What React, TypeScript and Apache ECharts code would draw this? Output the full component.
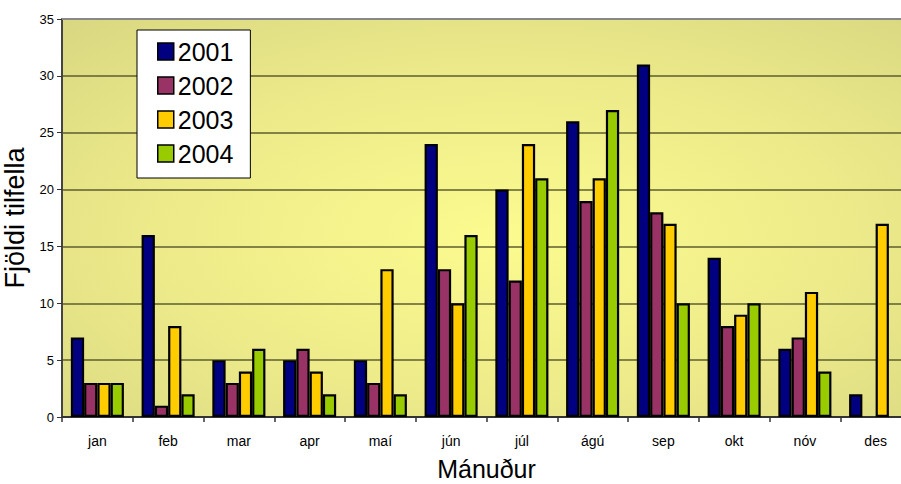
import React, { useEffect, useRef } from "react";
import * as echarts from "echarts";

const months = ["jan", "feb", "mar", "apr", "maí", "jún", "júl", "ágú", "sep", "okt", "nóv", "des"];
const years = ["2001", "2002", "2003", "2004"];
const v2001 = [7, 16, 5, 5, 5, 24, 20, 26, 31, 14, 6, 2];
const v2002 = [3, 1, 3, 6, 3, 13, 12, 19, 18, 8, 7, null];
const v2003 = [3, 8, 4, 4, 13, 10, 24, 21, 17, 9, 11, 17];
const v2004 = [3, 2, 6, 2, 2, 16, 21, 27, 10, 10, 4, null];
const colors = ["#000080", "#993366", "#FFCC00", "#99CC00"];
const yTicks = [0, 5, 10, 15, 20, 25, 30, 35];

export default function App() {
  const ref = useRef<HTMLDivElement>(null);
  useEffect(() => {
    if (!ref.current) return;
    const chart = echarts.init(ref.current, null, { renderer: "svg" });
    const all = [v2001, v2002, v2003, v2004];
    chart.setOption({
      animation: false,
      textStyle: { fontFamily: "Liberation Sans, Arial, sans-serif" },
      grid: {
        left: 62,
        top: 19,
        width: 849,
        height: 398,
        containLabel: false,
        outerBoundsMode: "none",
        show: true,
        borderWidth: 0,
        backgroundColor: new echarts.graphic.RadialGradient(0.52, 0.55, 0.75, [
          { offset: 0, color: "#FBFB8F" },
          { offset: 0.5, color: "#EEEC8A" },
          { offset: 1, color: "#D9D882" },
        ]),
      },
      legend: {
        orient: "vertical",
        left: 137,
        top: 30,
        data: years.map((y) => ({ name: y, icon: "rect" })),
        backgroundColor: "#ffffff",
        borderColor: "#000000",
        borderWidth: 1,
        padding: [9, 17, 12, 20],
        itemWidth: 16,
        itemHeight: 17,
        itemGap: 9,
        itemStyle: { borderColor: "#000", borderWidth: 1.5 },
        textStyle: { fontSize: 25, color: "#000", fontFamily: "Liberation Sans, Arial, sans-serif", padding: [0, 0, 0, -1] },
      },
      xAxis: {
        type: "category",
        data: months,
        name: "Mánuður",
        nameLocation: "middle",
        nameGap: 39,
        nameTextStyle: { fontSize: 25, lineHeight: 25, color: "#000" },
        axisLine: { lineStyle: { color: "#333", width: 2 } },
        axisTick: { show: true, length: 5, lineStyle: { color: "#333", width: 1.5 } },
        axisLabel: { fontSize: 14, color: "#000", margin: 17 },
        splitLine: { show: false },
      },
      yAxis: {
        type: "value",
        min: 0,
        max: 35,
        interval: 5,
        name: "Fjöldi tilfella",
        nameLocation: "middle",
        nameGap: 27,
        nameTextStyle: { fontSize: 27, color: "#000" },
        axisLine: { show: true, lineStyle: { color: "#444", width: 2 } },
        axisTick: { show: true, length: 5, lineStyle: { color: "#333" } },
        axisLabel: {
          fontSize: 13,
          color: "#000",
          margin: 8,
          formatter: (v: number) => (yTicks.includes(v) ? String(v) : ""),
        },
        splitLine: { show: true, lineStyle: { color: "#5E5E2E", width: 1.5 } },
      },
      series: years.map((y, i) => ({
        name: y,
        type: "bar",
        data: all[i],
        barGap: "0%",
        barCategoryGap: "25%",
        itemStyle: { color: colors[i], borderColor: "#000", borderWidth: 2.2 },
      })),
      graphic: [
        {
          type: "line",
          shape: { x1: 62, y1: 19, x2: 901, y2: 19 },
          style: { stroke: "#888888", lineWidth: 2 },
          z: 10,
        },
      ],
    });
    return () => chart.dispose();
  }, []);
  return <div ref={ref} style={{ width: 901, height: 484, position: "absolute", left: 0, top: 0 }} />;
}
